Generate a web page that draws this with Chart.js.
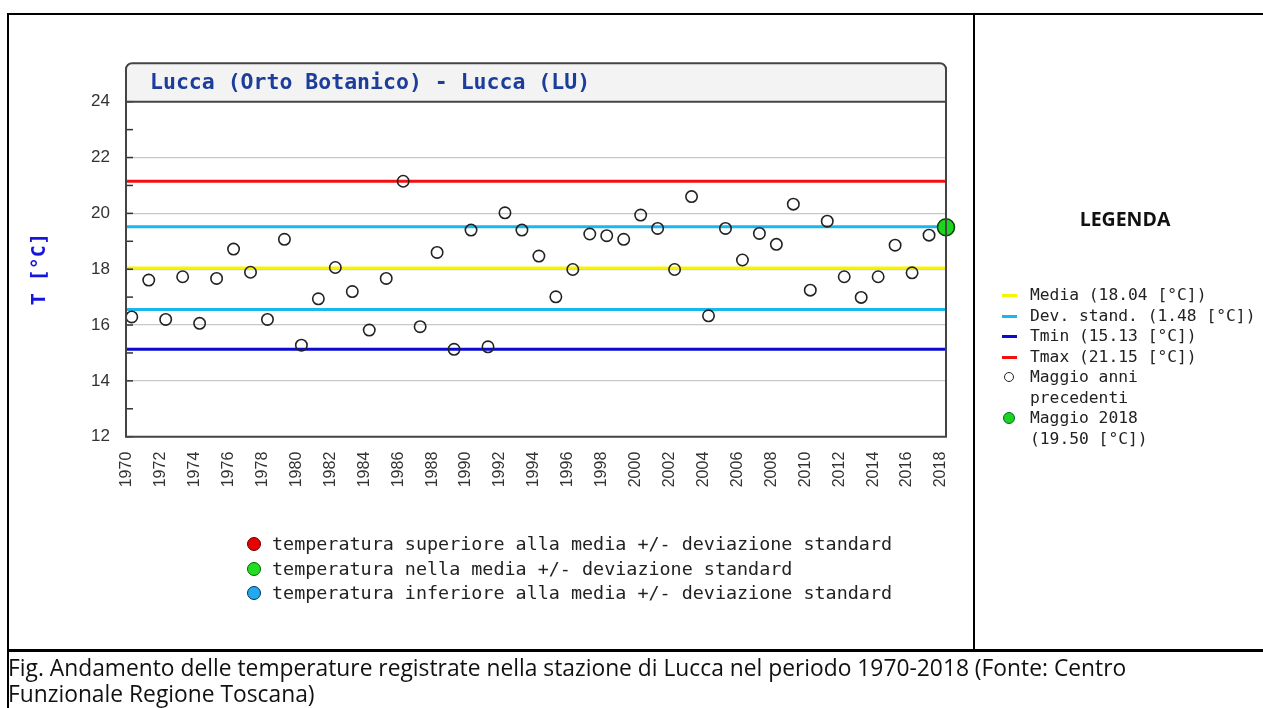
<!DOCTYPE html>
<html>
<head>
<meta charset="utf-8">
<script src="https://cdn.jsdelivr.net/npm/chart.js@4.4.1/dist/chart.umd.min.js"></script>
<style>
html,body{margin:0;padding:0;background:#fff;}
body{width:1263px;height:708px;overflow:hidden;position:relative;}
#chart{position:absolute;left:0;top:0;}
.box{position:absolute;left:7px;top:13px;width:1280px;height:800px;border:2px solid #000;box-sizing:border-box;}
.vdiv{position:absolute;left:973px;top:13px;width:2px;height:637px;background:#000;}
.hdiv{position:absolute;left:7px;top:649px;width:1270px;height:3px;background:#000;}
.caption{position:absolute;left:8px;top:655px;font-family:'Open Sans',sans-serif;font-size:22.8px;line-height:26px;color:#111;white-space:nowrap;}
.legtitle{position:absolute;left:980px;width:290px;top:205px;text-align:center;font-family:'Open Sans',sans-serif;font-weight:bold;font-size:19.5px;color:#111;}
.rleg{position:absolute;left:1000px;top:285px;font-family:'DejaVu Sans Mono',monospace;font-size:16.3px;line-height:20.5px;color:#222;}
.rleg .it{display:flex;align-items:flex-start;}
.rleg .mk{width:30px;height:20.5px;position:relative;flex:none;}
.rleg .ln{position:absolute;left:2px;top:9px;width:15px;height:3px;}
.rleg .oc{position:absolute;left:4px;top:5px;width:8px;height:8px;border:1.6px solid #222;border-radius:50%;}
.rleg .gc{position:absolute;left:3px;top:4px;width:10px;height:10px;border:1.6px solid #063;border-radius:50%;background:#1bd41b;}
.bleg{position:absolute;left:247px;top:532px;font-family:'DejaVu Sans Mono',monospace;font-size:18.4px;line-height:24.5px;color:#222;}
.bleg .it{display:flex;align-items:center;white-space:nowrap;}
.bleg .dot{width:12px;height:12px;border-radius:50%;border:1.5px solid #333;margin-right:11px;flex:none;}
</style>
</head>
<body>
<canvas id="chart" width="974" height="520"></canvas>
<div class="box"></div>
<div class="vdiv"></div>
<div class="hdiv"></div>

<div class="legtitle">LEGENDA</div>
<div class="rleg" id="rleg"></div>
<div class="bleg" id="bleg"></div>

<div class="caption">Fig. Andamento delle temperature registrate nella stazione di Lucca nel periodo 1970-2018 (Fonte: Centro<br>Funzionale Regione Toscana)</div>

<script>
// valori di maggio, anni precedenti
const YEARS=[1970,1971,1972,1973,1974,1975,1976,1977,1978,1979,
  1980,1981,1982,1983,1984,1985,1986,1987,1988,1989,
  1990,1991,1992,1993,1994,1995,1996,1997,1998,1999,
  2000,2001,2002,2003,2004,2005,2006,2007,2008,2009,
  2010,2011,2012,2013,2014,2015,2016,2017];
const TEMPS=[16.29,17.61,16.20,17.73,16.06,17.67,18.72,17.89,16.20,19.07,
  15.28,16.94,18.06,17.20,15.82,17.67,21.15,15.94,18.60,15.13,
  19.40,15.22,20.02,19.40,18.47,17.01,17.99,19.26,19.20,19.07,
  19.94,19.46,17.99,20.60,16.33,19.46,18.33,19.28,18.89,20.33,
  17.25,19.72,17.73,16.99,17.73,18.86,17.87,19.22];
const CUR_YEAR=2018;
const CUR_TEMP=19.50;
const MEDIA=18.04, DEV_STD=1.48, TMIN=15.13, TMAX=21.15;
const X_MIN=1969.66;
const Y_MIN=12, Y_MAX=24;
const TICK_YEARS=[...YEARS,CUR_YEAR].filter(y=>y%2===0);
const GRID_VALUES=[14,16,18,20,22];

const COL={media:'#f5f500',dev:'#18b8ee',tmin:'#0a0ad0',tmax:'#f01010'};

function hline(v,color){
  return {type:'line',data:[{x:X_MIN,y:v},{x:CUR_YEAR,y:v}],borderColor:color,borderWidth:3,
    pointRadius:0,pointHoverRadius:0,order:2,clip:false};
}

const framePlugin={
  id:'frame',
  afterDatasetsDraw(chart){
    const {ctx,chartArea:a}=chart;
    const ys=chart.scales.y;
    const TITLE_H=38.5, r=6;
    const top=a.top-TITLE_H;
    ctx.save();
    // barra del titolo
    ctx.beginPath();
    ctx.moveTo(a.left,a.top);
    ctx.lineTo(a.left,top+r);
    ctx.arcTo(a.left,top,a.left+r,top,r);
    ctx.lineTo(a.right-r,top);
    ctx.arcTo(a.right,top,a.right,top+r,r);
    ctx.lineTo(a.right,a.top);
    ctx.closePath();
    ctx.fillStyle='#f3f3f3';
    ctx.fill();
    ctx.fillStyle='#1d3d9b';
    ctx.font='bold 21.5px "DejaVu Sans Mono"';
    ctx.textBaseline='middle';
    ctx.fillText('Lucca (Orto Botanico) - Lucca (LU)',a.left+24,top+TITLE_H/2+1);
    // tacche interne
    ctx.strokeStyle='#333';
    ctx.lineWidth=1.5;
    ys.ticks.forEach(t=>{
      const py=ys.getPixelForValue(t.value);
      ctx.beginPath();ctx.moveTo(a.left,py);ctx.lineTo(a.left+7,py);ctx.stroke();
    });
    // cornice
    ctx.strokeStyle='#444';
    ctx.lineWidth=2;
    ctx.beginPath();
    ctx.moveTo(a.left,a.bottom);
    ctx.lineTo(a.left,top+r);
    ctx.arcTo(a.left,top,a.left+r,top,r);
    ctx.lineTo(a.right-r,top);
    ctx.arcTo(a.right,top,a.right,top+r,r);
    ctx.lineTo(a.right,a.bottom);
    ctx.closePath();
    ctx.stroke();
    ctx.beginPath();ctx.moveTo(a.left,a.top);ctx.lineTo(a.right,a.top);ctx.stroke();
    ctx.restore();
  }
};

new Chart(document.getElementById('chart').getContext('2d'),{
  type:'scatter',
  data:{
    datasets:[
      {label:'Maggio anni precedenti',data:YEARS.map((y,i)=>({x:y,y:TEMPS[i]})),
        pointRadius:5.7,pointBorderWidth:1.6,borderColor:'#222',backgroundColor:'rgba(0,0,0,0)',order:1,clip:false},
      {label:'Maggio 2018',data:[{x:CUR_YEAR,y:CUR_TEMP}],pointRadius:8.5,pointBorderWidth:1.5,
        borderColor:'#0a400a',backgroundColor:'#1bd41b',order:0,clip:false},
      hline(MEDIA,COL.media),
      hline(MEDIA+DEV_STD,COL.dev),
      hline(MEDIA-DEV_STD,COL.dev),
      hline(TMIN,COL.tmin),
      hline(TMAX,COL.tmax)
    ]
  },
  options:{
    responsive:false,
    animation:false,
    events:[],
    layout:{padding:{top:101.7,right:28,bottom:0,left:0}},
    plugins:{legend:{display:false},tooltip:{enabled:false}},
    scales:{
      x:{type:'linear',min:X_MIN,max:CUR_YEAR,
        afterBuildTicks(s){s.ticks=TICK_YEARS.map(v=>({value:v}));},
        afterFit(s){s.height=83.3;s.paddingLeft=0;s.paddingRight=0;},
        grid:{display:false},
        border:{display:false},
        ticks:{autoSkip:false,minRotation:90,maxRotation:90,labelOffset:-5,padding:7,
          color:'#333',font:{family:'Liberation Sans',size:16},callback:v=>String(v)}
      },
      y:{min:Y_MIN,max:Y_MAX,
        afterFit(s){s.width=126;s.paddingTop=0;s.paddingBottom=0;},
        border:{display:false},
        grid:{drawTicks:false,lineWidth:1.2,
          color:c=>GRID_VALUES.includes(c.tick.value)?'#c8c8c8':'rgba(0,0,0,0)'},
        ticks:{stepSize:1,autoSkip:false,padding:16,color:'#333',
          font:{family:'Liberation Sans',size:17},callback:v=>v%2===0?String(v):''},
        title:{display:true,text:'T [°C]',color:'#1515e0',
          font:{family:'DejaVu Sans Mono',weight:'bold',size:20},padding:{top:28}}
      }
    }
  },
  plugins:[framePlugin]
});

// legenda a destra
const R_LEG=[
  {type:'line',color:COL.media,text:'Media ('+MEDIA.toFixed(2)+' [°C])'},
  {type:'line',color:COL.dev,text:'Dev. stand. ('+DEV_STD.toFixed(2)+' [°C])'},
  {type:'line',color:COL.tmin,text:'Tmin ('+TMIN.toFixed(2)+' [°C])'},
  {type:'line',color:COL.tmax,text:'Tmax ('+TMAX.toFixed(2)+' [°C])'},
  {type:'open',text:'Maggio anni<br>precedenti'},
  {type:'green',text:'Maggio '+CUR_YEAR+'<br>('+CUR_TEMP.toFixed(2)+' [°C])'}
];
document.getElementById('rleg').innerHTML=R_LEG.map(e=>{
  let mk='';
  if(e.type==='line') mk=`<span class="ln" style="background:${e.color}"></span>`;
  else if(e.type==='open') mk='<span class="oc"></span>';
  else mk='<span class="gc"></span>';
  return `<div class="it"><div class="mk">${mk}</div><div>${e.text}</div></div>`;
}).join('');

// legenda in basso
const B_LEG=[
  {fill:'#e80000',border:'#600',text:'temperatura superiore alla media +/- deviazione standard'},
  {fill:'#22dd22',border:'#060',text:'temperatura nella media +/- deviazione standard'},
  {fill:'#22aaee',border:'#035',text:'temperatura inferiore alla media +/- deviazione standard'}
];
document.getElementById('bleg').innerHTML=B_LEG.map(e=>
  `<div class="it"><span class="dot" style="background:${e.fill};border-color:${e.border}"></span>${e.text}</div>`
).join('');
</script>
</body>
</html>
